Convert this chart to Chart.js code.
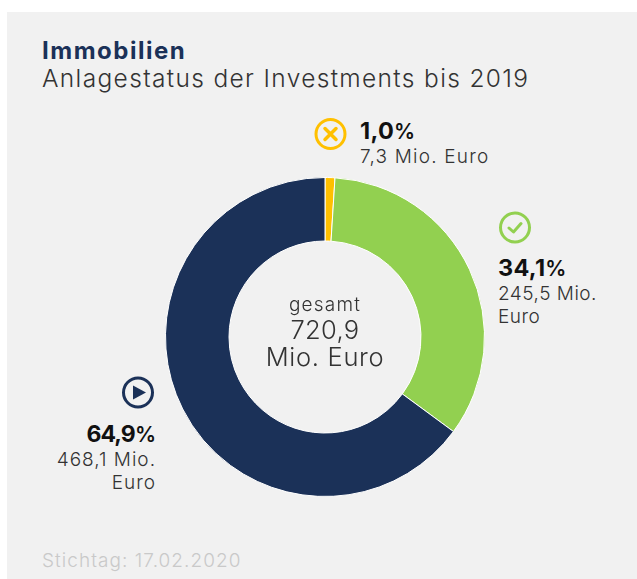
<!DOCTYPE html>
<html>
<head>
<meta charset="utf-8">
<script src="https://cdn.jsdelivr.net/npm/chart.js@4"></script>
<style>
  html, body { margin: 0; padding: 0; background: #fff; overflow: hidden; }
  body { width: 637px; height: 579px; position: relative; font-family: Inter, sans-serif; color: #333; }
  #panel { position: absolute; left: 7px; top: 12px; width: 630px; height: 567px; background: #f1f1f1; }
  #chartBox { position: absolute; left: 165px; top: 177px; width: 320px; height: 320px; }
  .txt { position: absolute; white-space: nowrap; }
  .pct { font-weight: 700; font-size: 23.5px; line-height: 24px; color: #111; letter-spacing: .3px; }
  .pct span { font-size: 21px; font-weight: 600; letter-spacing: 0; }
  .amt { font-size: 19px; line-height: 23px; font-weight: 300; letter-spacing: .8px; }
  svg { position: absolute; }
</style>
</head>
<body>
<div id="panel"></div>
<div id="chartBox"><canvas id="anlageChart" width="320" height="320"></canvas></div>

<div class="txt" style="left:42px;top:37px;font-size:24px;line-height:27px;font-weight:700;color:#1b3158;letter-spacing:1.5px">Immobilien</div>
<div class="txt" style="left:42px;top:64px;font-size:24.5px;line-height:29px;font-weight:300;letter-spacing:1.35px">Anlagestatus der Investments bis 2019</div>

<div class="txt pct" id="lbl0" style="left:360px;top:119px"></div>
<div class="txt amt" id="amt0" style="left:360px;top:145px;letter-spacing:1.2px"></div>
<div class="txt pct" id="lbl1" style="left:498px;top:256px"></div>
<div class="txt amt" id="amt1" style="left:498px;top:282px;white-space:pre;letter-spacing:.5px"></div>
<div class="txt pct" id="lbl2" style="right:481px;top:422px;font-size:23px;letter-spacing:-.9px"></div>
<div class="txt amt" id="amt2" style="right:481px;top:448px;white-space:pre;text-align:right;letter-spacing:1px"></div>

<div class="txt" id="mitte" style="left:225px;width:200px;top:294px;text-align:center;font-weight:300">
  <div style="font-size:19px;line-height:22px;letter-spacing:1.2px">gesamt</div>
  <div style="font-size:25.5px;line-height:27px;letter-spacing:.3px">720,9</div>
  <div style="font-size:25.5px;line-height:27px;letter-spacing:.7px">Mio. Euro</div>
</div>

<div class="txt" style="left:42px;top:549px;font-size:19px;line-height:23px;font-weight:300;color:#c9c9c9;letter-spacing:1.05px">Stichtag: 17.02.2020</div>

<svg style="left:314px;top:117px" width="34" height="34" viewBox="0 0 34 34">
  <circle cx="16.5" cy="17" r="14.5" fill="none" stroke="#ffc000" stroke-width="3"/>
  <path d="M11 11.5 L22 22.5 M22 11.5 L11 22.5" stroke="#ffc000" stroke-width="3.5" stroke-linecap="round"/>
</svg>
<svg style="left:498px;top:211px" width="34" height="34" viewBox="0 0 34 34">
  <circle cx="17" cy="16.5" r="14.5" fill="none" stroke="#92d050" stroke-width="3"/>
  <path d="M11 17 L15.5 21 L23 12.5" fill="none" stroke="#92d050" stroke-width="3" stroke-linecap="round" stroke-linejoin="round"/>
</svg>
<svg style="left:121px;top:376px" width="34" height="34" viewBox="0 0 34 34">
  <circle cx="17" cy="16.5" r="14.5" fill="none" stroke="#1b3158" stroke-width="3"/>
  <path d="M12 9.5 L25 16.5 L12 23.5 Z" fill="#1b3158"/>
</svg>

<script>
// Werte, im Uhrzeigersinn ab 12 Uhr
const kategorien = ['Beendet', 'Realisiert', 'Laufend'];
const anteile = [1.0, 34.1, 64.9];
const anteilText = ['1,0', '34,1', '64,9'];
const betragText = ['7,3 Mio. Euro', '245,5 Mio.\nEuro', '468,1 Mio.\nEuro'];
const farben = ['#ffc000', '#92d050', '#1b3158'];

anteilText.forEach((t, i) => {
    document.getElementById('lbl' + i).innerHTML = t + '<span>%</span>';
    document.getElementById('amt' + i).textContent = betragText[i];
});

const ctx = document.getElementById('anlageChart').getContext('2d');
new Chart(ctx, {
    type: 'doughnut',
    data: {
        labels: kategorien,
        datasets: [{
            data: anteile,
            backgroundColor: farben,
            borderColor: '#ffffff',
            borderWidth: 1
        }]
    },
    options: {
        responsive: false,
        animation: false,
        radius: 159.5,
        cutout: 96,
        plugins: {
            legend: { display: false },
            tooltip: { enabled: false }
        }
    }
});
</script>
</body>
</html>
